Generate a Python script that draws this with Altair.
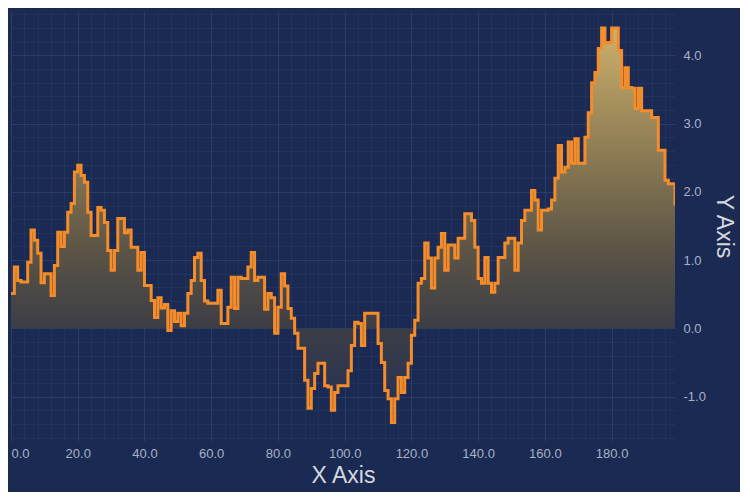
import altair as alt
import pandas as pd

# step values (x = 0 .. 199)
values = [
    0.51, 0.90, 0.70, 0.68, 0.68, 0.97, 1.44, 1.29, 1.10, 0.67,
    0.80, 0.80, 0.48, 0.92, 1.41, 1.20, 1.41, 1.70, 1.83, 2.29,
    2.39, 2.24, 2.14, 1.70, 1.36, 1.36, 1.77, 1.73, 1.55, 1.14,
    0.85, 1.14, 1.61, 1.61, 1.40, 1.44, 1.19, 1.19, 0.85, 1.11,
    0.63, 0.63, 0.41, 0.16, 0.45, 0.30, 0.35, -0.03, 0.26, 0.10,
    0.22, 0.04, 0.22, 0.51, 0.70, 1.04, 1.10, 0.70, 0.40, 0.37,
    0.37, 0.37, 0.56, 0.07, 0.07, 0.31, 0.75, 0.29, 0.75, 0.73,
    0.73, 0.90, 1.11, 0.70, 0.75, 0.75, 0.28, 0.51, 0.45, -0.07,
    0.31, 0.80, 0.62, 0.29, 0.15, -0.07, -0.29, -0.29, -0.76, -1.17,
    -0.88, -0.66, -0.51, -0.51, -0.84, -0.86, -1.20, -0.94, -0.84, -0.84,
    -0.84, -0.62, -0.25, 0.09, 0.07, -0.25, 0.22, 0.22, 0.22, 0.22,
    -0.22, -0.50, -0.91, -1.03, -1.38, -1.03, -0.72, -0.94, -0.72, -0.51,
    -0.10, 0.12, 0.66, 0.73, 1.25, 1.03, 0.59, 1.03, 1.19, 1.39,
    0.85, 1.22, 1.22, 1.03, 1.32, 1.32, 1.68, 1.68, 1.58, 1.19,
    0.73, 0.66, 1.04, 0.66, 0.53, 0.66, 1.04, 1.04, 1.25, 1.32,
    1.32, 0.85, 1.25, 1.58, 1.73, 1.73, 2.02, 1.88, 1.44, 1.73,
    1.73, 1.75, 1.88, 2.20, 2.68, 2.29, 2.36, 2.73, 2.42, 2.78,
    2.42, 2.42, 2.80, 3.16, 3.60, 3.75, 4.10, 4.40, 4.18, 4.19,
    4.40, 4.40, 4.07, 3.53, 3.82, 3.53, 3.52, 3.22, 3.52, 3.19,
    3.19, 3.19, 3.09, 3.09, 2.61, 2.61, 2.17, 2.12, 2.12, 1.80,
]
xs = list(range(len(values)))

x_title = "X Axis"
y_title = "Y Axis"

df = pd.DataFrame({"x": xs, "y": values})

x_ticks = list(range(0, 200, 4))
y_ticks = [round(-1.6 + 0.2 * k, 1) for k in range(32)]

LABEL = "#a7b1c9"
TITLE = "#d3d7df"
MAJOR = "rgba(120,150,220,0.16)"
MINOR = "rgba(120,150,220,0.07)"
is_y_major = "abs(datum.value - round(datum.value)) < 0.000001"
is_x_major = "datum.value % 20 === 0"
fmt = "(datum.value < -0.000001 ? '-' : '') + format(abs(datum.value), '.1f')"

x_enc = alt.X(
    "x:Q",
    scale=alt.Scale(domain=[0, 199], nice=False, zero=False),
    axis=alt.Axis(
        title=x_title,
        values=x_ticks,
        labelExpr=f"{is_x_major} ? {fmt} : ''",
        labelAlign={"condition": {"test": "datum.value === 0", "value": "left"}, "value": "center"},
        labelOverlap=False,
        labelColor=LABEL,
        labelFontSize=13,
        labelFont="Liberation Sans",
        labelPadding=6,
        ticks=False,
        domain=False,
        grid=True,
        gridColor={"condition": {"test": is_x_major, "value": MAJOR}, "value": MINOR},
        gridWidth=1,
        titleColor=TITLE,
        titleFontSize=23,
        titleFont="Liberation Sans",
        titleFontWeight="normal",
        titlePadding=4,
    ),
)

y_enc = alt.Y(
    "y:Q",
    scale=alt.Scale(domain=[-1.65, 4.65], nice=False, zero=False),
    axis=alt.Axis(
        title=y_title,
        orient="right",
        values=y_ticks,
        labelExpr=f"{is_y_major} ? {fmt} : ''",
        labelAlign="left",
        labelOverlap=False,
        labelColor=LABEL,
        labelFontSize=13,
        labelFont="Liberation Sans",
        labelPadding=8,
        ticks=False,
        domain=False,
        grid=True,
        gridColor={"condition": {"test": is_y_major, "value": MAJOR}, "value": MINOR},
        gridWidth=1,
        titleColor=TITLE,
        titleFontSize=23,
        titleFont="Liberation Sans",
        titleFontWeight="normal",
        titlePadding=6,
    ),
)

base = alt.Chart(df).encode(x=x_enc, y=y_enc)

area = base.mark_area(
    interpolate="step-after",
    clip=True,
    fill=alt.Gradient(
        gradient="linear",
        x1=0, x2=0, y1=0, y2=1,
        stops=[
            alt.GradientStop(color="#cdb06c", offset=0.0),
            alt.GradientStop(color="#9a8658", offset=0.25),
            alt.GradientStop(color="#5e5646", offset=0.55),
            alt.GradientStop(color="#3c3d45", offset=0.76),
            alt.GradientStop(color="#24305a", offset=1.0),
        ],
    ),
).encode(y2=alt.datum(0))

line = base.mark_line(
    interpolate="step-after",
    clip=True,
    color="#f58c2a",
    strokeWidth=3,
)

chart = (
    alt.layer(area, line)
    .properties(
        width=664,
        height=430,
        background="#1b2a52",
        padding={"left": 3, "top": 0, "right": 5, "bottom": 5},
    )
    .configure_view(stroke=None)
)

chart.save("out.html", embed_options={"renderer": "svg", "actions": False})
